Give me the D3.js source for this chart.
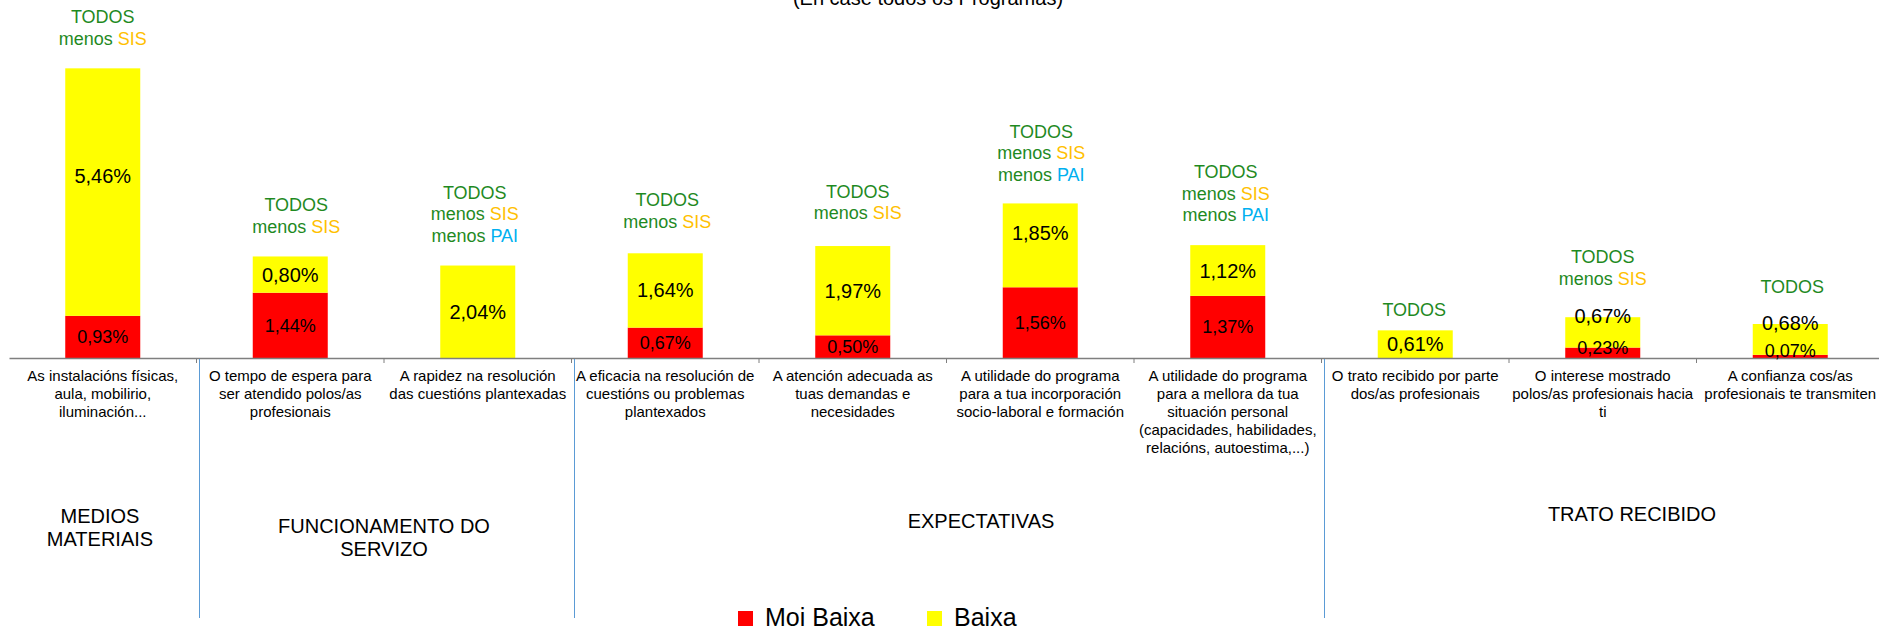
<!DOCTYPE html>
<html>
<head>
<meta charset="utf-8">
<script src="https://cdn.jsdelivr.net/npm/d3@7"></script>
<style>
  body { margin: 0; background: #fff; }
  svg { display: block; font-family: "Liberation Sans", Arial, sans-serif; }
</style>
</head>
<body>
<div id="chart"></div>
<script>
// data
var categories = [
    ["As instalacións físicas,", "aula, mobilirio,", "iluminación..."],
    ["O tempo de espera para", "ser atendido polos/as", "profesionais"],
    ["A rapidez na resolución", "das cuestións plantexadas"],
    ["A eficacia na resolución de", "cuestións ou problemas", "plantexados"],
    ["A atención adecuada as", "tuas demandas e", "necesidades"],
    ["A utilidade do programa", "para a tua incorporación", "socio-laboral e formación"],
    ["A utilidade do programa", "para a mellora da tua", "situación personal", "(capacidades, habilidades,", "relacións, autoestima,...)"],
    ["O trato recibido por parte", "dos/as profesionais"],
    ["O interese mostrado", "polos/as profesionais hacia", "ti"],
    ["A confianza cos/as", "profesionais te transmiten"]
];
var moiBaixa = [0.93, 1.44, 0, 0.67, 0.50, 1.56, 1.37, 0, 0.23, 0.07];
var baixa = [5.46, 0.80, 2.04, 1.64, 1.97, 1.85, 1.12, 0.61, 0.67, 0.68];
// programs excluded ("TODOS menos ...")
var exclusions = [["SIS"], ["SIS"], ["SIS", "PAI"], ["SIS"], ["SIS"], ["SIS", "PAI"], ["SIS", "PAI"], [], ["SIS"], []];
var groups = [
    { lines: ["MEDIOS", "MATERIAIS"], from: 0, to: 0 },
    { lines: ["FUNCIONAMENTO DO", "SERVIZO"], from: 1, to: 2 },
    { lines: ["EXPECTATIVAS"], from: 3, to: 6 },
    { lines: ["TRATO RECIBIDO"], from: 7, to: 9 }
];
var seriesNames = ["Moi Baixa", "Baixa"];
var subtitle = "(En case todos os Programas)";

// layout tweaks (hand placed text boxes in the original)
var yellowLabelShift = [-16, 0, 0, 0, 0, -12, 0, 0, -16, -16];
var redLabelShift = [0, 0, 0, 0, 0, 0, 0, 0, -5, -6];
var noteGap = [30, 30, 30, 32, 33, 29, 30, 21, 39, 37];
var noteDx = [0, 6, -3, 2, 5, 1, -2, -1, 0, 2];
var groupPos = [{ x: 100, y: 523 }, { x: 384, y: 533 }, { x: 981, y: 528 }, { x: 1632, y: 521 }];

var colors = { "Moi Baixa": "#ff0000", "Baixa": "#ffff00" };
var green = "#1f8a1f", progColor = { SIS: "#ffc000", PAI: "#00b0f0" };

var svgWidth = 1879, svgHeight = 632;
var axisY = 358;

var svg = d3.select("#chart").append("svg")
    .attr("width", svgWidth)
    .attr("height", svgHeight);

var table = categories.map(function (c, i) {
    return { i: i, "Moi Baixa": moiBaixa[i], "Baixa": baixa[i] };
});

var x = d3.scaleBand()
    .domain(d3.range(categories.length))
    .range([9, 1884])
    .paddingInner(0.6)
    .paddingOuter(0.3);

var y = d3.scaleLinear()
    .domain([0, 7])
    .range([axisY, axisY - 7 * 45.33]);

var step = x.step();
function boundary(i) { return x(0) - x.paddingOuter() * step + i * step; }
function center(i) { return x(i) + x.bandwidth() / 2; }

var stacked = d3.stack().keys(seriesNames)(table);

// subtitle, cut at the top like the original
svg.append("text")
    .attr("x", 928)
    .attr("y", 5)
    .attr("text-anchor", "middle")
    .attr("font-size", 20)
    .attr("fill", "#000")
    .text(subtitle);

// bars
svg.append("g").selectAll("g")
    .data(stacked)
    .enter()
    .append("g")
    .attr("fill", function (s) { return colors[s.key]; })
    .selectAll("rect")
    .data(function (s) { return s; })
    .enter()
    .append("rect")
    .attr("x", function (d) { return x(d.data.i); })
    .attr("width", x.bandwidth())
    .attr("y", function (d) { return y(d[1]); })
    .attr("height", function (d) { return y(d[0]) - y(d[1]); });

// axis
var xAxis = d3.axisBottom(x).tickSize(0).tickSizeOuter(0).tickFormat("");
var axisG = svg.append("g")
    .attr("transform", "translate(0," + axisY + ")")
    .call(xAxis);
axisG.select(".domain").attr("stroke", "#7f7f7f").attr("stroke-width", 1.5);

axisG.selectAll(".bound")
    .data(d3.range(1, categories.length))
    .enter()
    .append("line")
    .attr("class", "bound")
    .attr("x1", boundary).attr("x2", boundary)
    .attr("y1", 0).attr("y2", 5)
    .attr("stroke", "#7f7f7f")
    .attr("stroke-width", 1);

// category labels
var catG = svg.append("g").attr("font-size", 15).attr("fill", "#000");
categories.forEach(function (lines, i) {
    var t = catG.append("text")
        .attr("text-anchor", "middle")
        .attr("x", center(i));
    lines.forEach(function (ln, k) {
        t.append("tspan")
            .attr("x", center(i))
            .attr("y", 376 + k * 18)
            .attr("dy", "0.35em")
            .text(ln);
    });
});

// group separators
svg.append("g").selectAll("line")
    .data(groups.slice(1))
    .enter()
    .append("line")
    .attr("x1", function (g) { return boundary(g.from) + 3; })
    .attr("x2", function (g) { return boundary(g.from) + 3; })
    .attr("y1", axisY + 1)
    .attr("y2", 618)
    .attr("stroke", "#5b9bd5")
    .attr("stroke-width", 1);

// group labels
groups.forEach(function (g, gi) {
    var t = svg.append("text")
        .attr("text-anchor", "middle")
        .attr("font-size", 20)
        .attr("fill", "#000");
    g.lines.forEach(function (ln, k) {
        t.append("tspan")
            .attr("x", groupPos[gi].x)
            .attr("y", groupPos[gi].y + k * 23)
            .text(ln);
    });
});

// value labels
var fmt = function (v) { return v.toFixed(2).replace(".", ",") + "%"; };
stacked.forEach(function (s) {
    var yellow = s.key === "Baixa";
    svg.append("g").selectAll("text")
        .data(s.filter(function (d) { return d.data[s.key] > 0; }))
        .enter()
        .append("text")
        .attr("text-anchor", "middle")
        .attr("font-size", yellow ? 20 : 18)
        .attr("fill", "#000")
        .attr("x", function (d) { return center(d.data.i); })
        .attr("y", function (d) {
            var shift = yellow ? yellowLabelShift[d.data.i] : redLabelShift[d.data.i];
            return (y(d[0]) + y(d[1])) / 2 + shift;
        })
        .attr("dy", "0.35em")
        .text(function (d) { return fmt(d.data[s.key]); });
});

// "TODOS menos ..." notes above the bars
exclusions.forEach(function (ex, i) {
    var top = y(moiBaixa[i] + baixa[i]);
    var lastY = top - noteGap[i];
    var n = ex.length + 1;
    var t = svg.append("text")
        .attr("text-anchor", "middle")
        .attr("font-size", 18)
        .attr("fill", green);
    var cx = center(i) + noteDx[i];
    t.append("tspan")
        .attr("x", cx)
        .attr("y", lastY - (n - 1) * 21.5)
        .attr("dy", "0.35em")
        .text("TODOS");
    ex.forEach(function (p, k) {
        var line = t.append("tspan")
            .attr("x", cx)
            .attr("y", lastY - (n - 2 - k) * 21.5)
            .attr("dy", "0.35em")
            .text("menos ");
        t.append("tspan")
            .attr("fill", progColor[p])
            .text(p);
    });
});

// legend
var legend = svg.append("g").attr("font-size", 25).attr("fill", "#000");
var legendX = [738, 927];
seriesNames.forEach(function (name, i) {
    legend.append("rect")
        .attr("x", legendX[i])
        .attr("y", 611)
        .attr("width", 15)
        .attr("height", 15)
        .attr("fill", colors[name]);
    legend.append("text")
        .attr("x", legendX[i] + 27)
        .attr("y", 626)
        .text(name);
});
</script>
</body>
</html>
